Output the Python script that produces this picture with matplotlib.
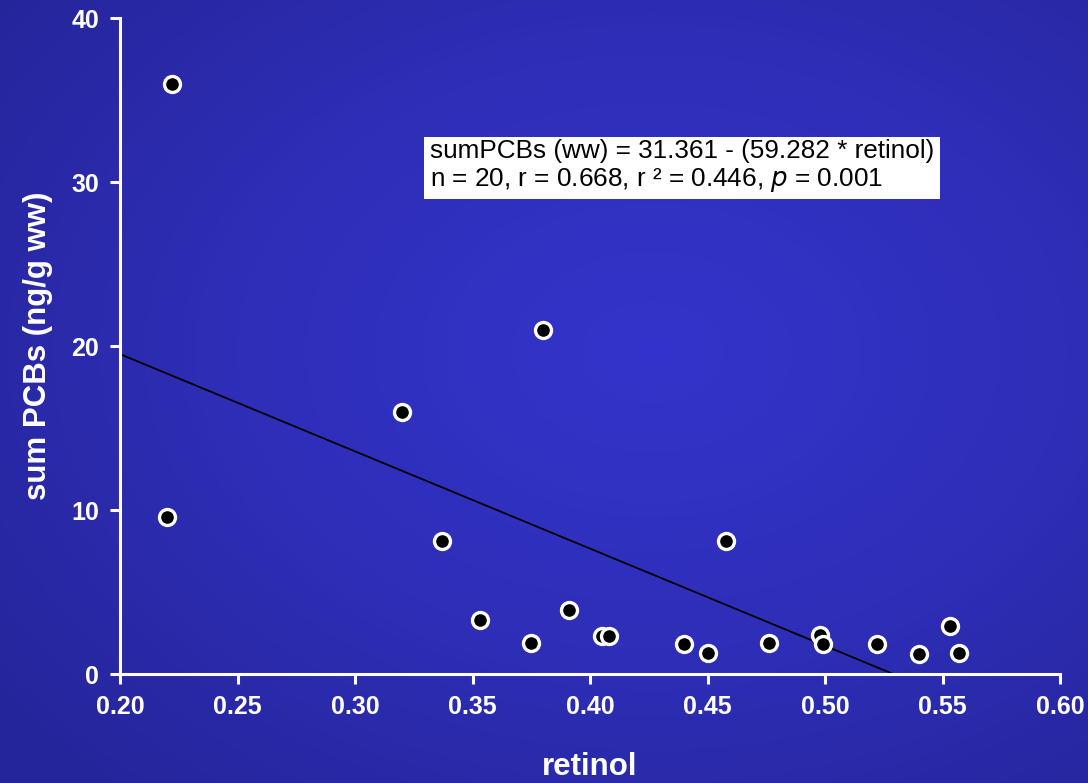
import numpy as np
import matplotlib
matplotlib.use('Agg')
import matplotlib.pyplot as plt
from matplotlib.colors import LinearSegmentedColormap

# retinol vs sum PCBs
retinol = [0.222, 0.220, 0.320, 0.380, 0.337, 0.353, 0.375, 0.391, 0.405,
           0.408, 0.440, 0.450, 0.458, 0.476, 0.498, 0.499, 0.522, 0.540,
           0.553, 0.557]
sum_pcbs = [36.0, 9.6, 16.0, 21.0, 8.1, 3.3, 1.9, 3.9, 2.3, 2.3, 1.8, 1.3,
            8.1, 1.9, 2.4, 1.8, 1.8, 1.2, 2.9, 1.3]

intercept = 31.361
slope = -59.282

x_ticks = [0.20, 0.25, 0.30, 0.35, 0.40, 0.45, 0.50, 0.55, 0.60]
y_ticks = [0, 10, 20, 30, 40]

plt.rcParams['font.family'] = ['Liberation Sans', 'DejaVu Sans']

fig = plt.figure(figsize=(10.88, 7.83), dpi=100)

# blue radial gradient background
bg = fig.add_axes([0, 0, 1, 1], zorder=-10)
yy, xx = np.mgrid[0:1:300j, 0:1:400j]
r = np.sqrt(((xx - 0.6) / 0.9) ** 2 + ((yy - 0.45) / 0.9) ** 2)
cmap = LinearSegmentedColormap.from_list('bg', ['#3434cc', '#2e2eb8', '#25259a'])
bg.imshow(r, cmap=cmap, aspect='auto', extent=[0, 1, 0, 1], vmin=0, vmax=0.85)
bg.axis('off')

ax = fig.add_axes([0.1103, 0.1392, 0.8640, 0.8378])
ax.patch.set_alpha(0)

# regression line, from 0.20 down to where it hits zero
x_end = -intercept / slope
ax.plot([0.20, x_end], [intercept + slope * 0.20, 0], color='black', lw=1.3,
        zorder=2)

ax.plot(retinol, sum_pcbs, 'o', ms=11.5, mfc='black', mec='white', mew=2.4,
        zorder=3, clip_on=False)

ax.set_xlim(0.20, 0.60)
ax.set_ylim(0, 40)
ax.set_xticks(x_ticks)
ax.set_xticklabels([f'{t:.2f}' for t in x_ticks])
ax.set_yticks(y_ticks)

for s in ['top', 'right']:
    ax.spines[s].set_visible(False)
for s in ['left', 'bottom']:
    ax.spines[s].set_color('white')
    ax.spines[s].set_linewidth(2.2)

ax.tick_params(colors='white', width=2.2, length=7, labelsize=18, pad=8)
for lab in ax.get_xticklabels() + ax.get_yticklabels():
    lab.set_fontweight('bold')

ax.set_xlabel('retinol', color='white', fontsize=22.5, fontweight='bold',
              labelpad=24)
ax.set_ylabel('sum PCBs (ng/g ww)', color='white', fontsize=22.5,
              fontweight='bold', labelpad=13)

ax.text(0.3319, 32.6,
        'sumPCBs (ww) = 31.361 - (59.282 * retinol)\n'
        'n = 20, r = 0.668, r \u00b2 = 0.446, $\\it{p}$ = 0.001',
        fontsize=18.8, color='black', va='top', ha='left', linespacing=1.12,
        bbox=dict(facecolor='white', edgecolor='none', pad=4))

fig.savefig('out.png', dpi=100)
